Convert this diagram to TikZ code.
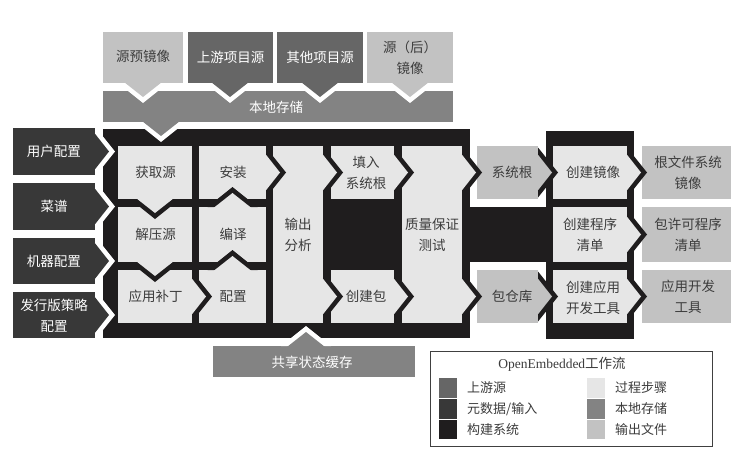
\documentclass[tikz,border=0pt]{standalone}
\usepackage{fontspec}
\setmainfont{Noto Sans CJK SC}
\newfontfamily\serifl{Liberation Serif}
\definecolor{upstream}{HTML}{666666}
\definecolor{meta}{HTML}{383838}
\definecolor{build}{HTML}{1F1D1E}
\definecolor{stepc}{HTML}{E6E6E6}
\definecolor{local}{HTML}{838383}
\definecolor{outf}{HTML}{C2C2C2}
\definecolor{txtd}{HTML}{3C3C3C}
\pgfdeclarelayer{bg}\pgfdeclarelayer{mid}\pgfsetlayers{bg,mid,main}
% filled area: x1 y1 x2 y2 colour
\newcommand{\area}[5]{\begin{pgfonlayer}{bg}\fill[#5] (#1,#2) rectangle (#3,#4);\end{pgfonlayer}}
% tabs: edge, centre, sender colour, gap colour
\newcommand{\tabR}[4]{\begin{pgfonlayer}{mid}
 \fill[#4] (#1,{#2-25}) -- ({#1+20},#2) -- (#1,{#2+25}) -- cycle;
 \fill[#3] ({#1-1},{#2-19}) -- ({#1+14},#2) -- ({#1-1},{#2+19}) -- cycle;
 \end{pgfonlayer}}
\newcommand{\tabD}[4]{\begin{pgfonlayer}{mid}
 \fill[#4] ({#2-25},#1) -- (#2,{#1+20}) -- ({#2+25},#1) -- cycle;
 \fill[#3] ({#2-19},{#1-1}) -- (#2,{#1+14}) -- ({#2+19},{#1-1}) -- cycle;
 \end{pgfonlayer}}
\newcommand{\tabU}[4]{\begin{pgfonlayer}{mid}
 \fill[#4] ({#2-25},#1) -- (#2,{#1-20}) -- ({#2+25},#1) -- cycle;
 \fill[#3] ({#2-19},{#1+1}) -- (#2,{#1-14}) -- ({#2+19},{#1+1}) -- cycle;
 \end{pgfonlayer}}
\tikzset{
 txt/.style={inner sep=0pt, align=center, font=\fontsize{13.5}{21}\selectfont, text=txtd},
 wtxt/.style={txt, text=white},
 ltxt/.style={inner sep=0pt, anchor=west, font=\fontsize{13}{16}\selectfont, text=txtd},
}
\begin{document}
\begin{tikzpicture}[x=1pt,y=-1pt]
\useasboundingbox (0,0) rectangle (742,463);
\area{0}{0}{742}{463}{white}
% build system frames
\area{103}{129}{470}{338}{build}
\area{546}{131}{634}{339}{build}
\area{468}{207}{548}{262}{build}
% top sources
\area{103}{32}{183}{83}{outf}
\area{188}{32}{273}{83}{upstream}
\area{277}{32}{363}{83}{upstream}
\area{367}{32}{453}{83}{outf}
\area{103}{91}{453}{122}{local}
% metadata
\area{13}{128}{95}{175}{meta}
\area{13}{183}{95}{230}{meta}
\area{13}{238}{95}{284}{meta}
\area{13}{292}{95}{338}{meta}
% steps
\area{118}{146}{192}{199}{stepc}
\area{199}{146}{266}{199}{stepc}
\area{273}{146}{323}{323}{stepc}
\area{331}{146}{394}{199}{stepc}
\area{402}{146}{462}{323}{stepc}
\area{118}{207}{192}{262}{stepc}
\area{199}{207}{266}{262}{stepc}
\area{118}{270}{192}{323}{stepc}
\area{199}{270}{266}{323}{stepc}
\area{331}{270}{394}{323}{stepc}
\area{553}{146}{627}{199}{stepc}
\area{553}{207}{627}{262}{stepc}
\area{553}{270}{627}{323}{stepc}
% intermediate and outputs
\area{477}{146}{538}{199}{outf}
\area{477}{270}{538}{323}{outf}
\area{642}{146}{731}{199}{outf}
\area{642}{207}{731}{262}{outf}
\area{642}{270}{731}{323}{outf}
\area{213}{346}{415}{377}{local}
% tabs
\tabD{83}{143}{outf}{white}
\tabD{83}{230}{upstream}{white}
\tabD{83}{320}{upstream}{white}
\tabD{83}{410}{outf}{white}
\tabD{122}{161}{local}{white}
\tabR{95}{151.5}{meta}{white}
\tabR{95}{206.5}{meta}{white}
\tabR{95}{261}{meta}{white}
\tabR{95}{315}{meta}{white}
\tabU{346}{306}{local}{white}
\tabD{199}{155}{stepc}{build}
\tabD{262}{155}{stepc}{build}
\tabR{192}{296.5}{stepc}{build}
\tabU{270}{232.5}{stepc}{build}
\tabU{207}{232.5}{stepc}{build}
\tabR{266}{172.5}{stepc}{build}
\tabR{323}{172.5}{stepc}{build}
\tabR{323}{296.5}{stepc}{build}
\tabR{394}{172.5}{stepc}{build}
\tabR{394}{296.5}{stepc}{build}
\tabR{462}{172.5}{stepc}{build}
\tabR{462}{296.5}{stepc}{build}
\tabR{538}{172.5}{outf}{build}
\tabR{538}{296.5}{outf}{build}
\tabR{627}{172.5}{stepc}{build}
\tabR{627}{234.5}{stepc}{build}
\tabR{627}{296.5}{stepc}{build}
% texts
\node[txt]  (srcpre)  at (143,56)   {源预镜像};
\node[wtxt] (upsrc)   at (230.5,57) {上游项目源};
\node[wtxt] (othsrc)  at (320,57)   {其他项目源};
\node[txt]  (srcpost) at (410,57.5) {源（后）\\镜像};
\node[wtxt] (locst)   at (276,107)  {本地存储};
\node[wtxt] (ucfg)    at (54,151.5) {用户配置};
\node[wtxt] (recipe)  at (54,206.5) {菜谱};
\node[wtxt] (mcfg)    at (54,261)   {机器配置};
\node[wtxt] (dcfg)    at (54,315.5) {发行版策略\\配置};
\node[txt] (fetch)   at (155.5,172) {获取源};
\node[txt] (install) at (233,172.5) {安装};
\node[txt] (outana)  at (298,234.5) {输出\\分析};
\node[txt] (sysroot) at (366,173)   {填入\\系统根};
\node[txt] (qa)      at (432,234.5) {质量保证\\测试};
\node[txt] (unpack)  at (155.5,234.5) {解压源};
\node[txt] (compile) at (233,234.5) {编译};
\node[txt] (patch)   at (155.5,296.5) {应用补丁};
\node[txt] (config)  at (233,296.5) {配置};
\node[txt] (pkg)     at (366,296.5) {创建包};
\node[txt] (sroot)   at (512,172.5) {系统根};
\node[txt] (pkgrepo) at (512,296.5) {包仓库};
\node[txt] (mkimg)   at (593,172.5) {创建镜像};
\node[txt] (mkman)   at (590,234.5) {创建程序\\清单};
\node[txt] (mksdk)   at (593,298)   {创建应用\\开发工具};
\node[txt] (rootfs)  at (688,172.5) {根文件系统\\镜像};
\node[txt] (lic)     at (688,234.5) {包许可程序\\清单};
\node[txt] (sdk)     at (688,296.5) {应用开发\\工具};
\node[wtxt] (sstate) at (312,362)   {共享状态缓存};
% legend
\draw[draw=black!75, line width=1pt] (430,351) rectangle (712,446);
\node[txt] (legt) at (562,364) {{\serifl OpenEmbedded}工作流};
\fill[upstream] (439,378) rectangle (457,398);
\fill[meta]     (439,399) rectangle (457,419);
\fill[build]    (439,420) rectangle (457,439);
\fill[stepc]    (587,378) rectangle (605,398);
\fill[local]    (587,399) rectangle (605,419);
\fill[outf]     (587,420) rectangle (605,439);
\node[ltxt] (l1) at (467,388) {上游源};
\node[ltxt] (l2) at (467,409) {元数据/输入};
\node[ltxt] (l3) at (467,430) {构建系统};
\node[ltxt] (l4) at (615,388) {过程步骤};
\node[ltxt] (l5) at (615,409) {本地存储};
\node[ltxt] (l6) at (615,430) {输出文件};
\end{tikzpicture}
\end{document}
